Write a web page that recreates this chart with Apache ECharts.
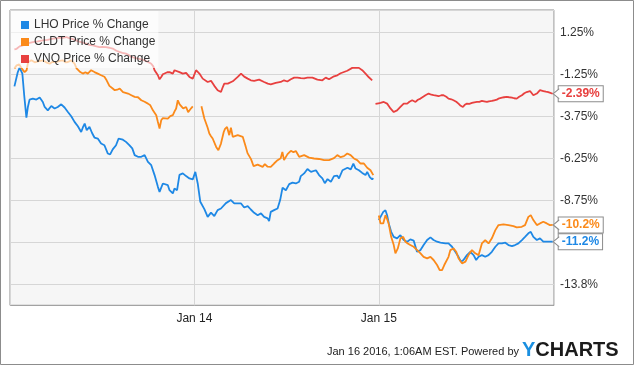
<!DOCTYPE html>
<html>
<head>
<meta charset="utf-8">
<script src="https://cdn.jsdelivr.net/npm/echarts/dist/echarts.min.js"></script>
<style>
html,body{margin:0;padding:0;background:#fff;}
#c{width:635px;height:366px;}
</style>
</head>
<body>
<div id="c"></div>
<script>
// x values are in trading days: 0 = Jan 13 open, 1 = Jan 14 open, 2 = Jan 15 open
const seriesNames = ['LHO Price % Change', 'CLDT Price % Change', 'VNQ Price % Change'];
const xTickLabels = {1: 'Jan 14', 2: 'Jan 15'};
const yTickValues = [1.25, -1.25, -3.75, -6.25, -8.75, -13.75];

const lhoT = [0.024,0.042,0.052,0.058,0.067,0.077,0.089,0.097,0.106,0.124,0.143,0.161,0.178,0.188,0.205,0.224,0.242,0.259,0.278,0.296,0.314,0.332,0.350,0.368,0.386,0.395,0.405,0.416,0.431,0.445,0.458,0.476,0.494,0.512,0.530,0.543,0.557,0.575,0.589,0.612,0.629,0.647,0.663,0.676,0.694,0.712,0.730,0.748,0.766,0.784,0.802,0.811,0.829,0.838,0.856,0.865,0.883,0.892,0.906,0.919,0.937,0.955,0.973,0.991,
1.005,1.018,1.032,1.054,1.072,1.090,1.108,1.126,1.144,1.171,1.198,1.216,1.253,1.270,1.289,1.306,1.324,1.343,1.361,1.378,1.397,1.405,1.414,1.432,1.451,1.465,1.478,1.496,1.514,1.532,1.550,1.568,1.577,1.595,1.613,1.632,1.659,1.676,1.694,1.707,1.722,1.740,1.757,1.775,1.784,1.803,1.830,1.848,1.862,1.874,1.892,1.910,1.928,1.937,1.951,1.964,1.970,
1.985,
2.000,2.009,2.024,2.036,2.045,2.054,2.067,2.081,2.099,2.117,2.135,2.154,2.171,2.189,2.207,2.226,2.243,2.262,2.280,2.297,2.316,2.334,2.361,2.378,2.397,2.415,2.432,2.445,2.459,2.478,2.496,2.514,2.528,2.541,2.559,2.577,2.595,2.613,2.632,2.649,2.668,2.686,2.703,2.722,2.739,2.757,2.776,2.793,2.811,2.824,2.838,2.857,2.874,2.892,2.911,2.928,2.943];
const lhoV = [-1.95,-1.11,-0.83,-0.80,-1.19,-2.48,-3.81,-3.18,-2.74,-2.68,-2.74,-2.62,-2.88,-3.18,-3.38,-3.12,-3.27,-3.18,-3.02,-3.21,-3.48,-3.73,-4.07,-4.33,-4.67,-4.40,-4.17,-4.57,-4.37,-4.73,-5.00,-5.06,-5.36,-5.46,-5.95,-6.01,-5.71,-5.46,-5.06,-5.13,-5.26,-5.46,-5.65,-6.05,-6.15,-6.15,-6.05,-6.45,-6.65,-7.24,-7.94,-8.24,-7.74,-7.64,-7.84,-8.14,-8.33,-8.04,-8.14,-7.23,-7.14,-7.30,-7.44,-7.50,
-7.05,-7.74,-8.83,-9.27,-9.73,-9.48,-9.68,-9.33,-9.23,-8.91,-8.73,-8.93,-8.93,-9.17,-9.09,-9.29,-9.49,-9.63,-9.52,-9.73,-9.82,-9.98,-9.43,-9.33,-9.23,-8.73,-7.99,-8.14,-7.78,-7.69,-7.74,-7.64,-7.30,-7.14,-6.88,-7.05,-6.95,-7.24,-7.44,-7.72,-7.48,-7.64,-7.30,-7.27,-7.44,-6.95,-6.80,-6.90,-6.55,-6.85,-6.95,-7.11,-7.24,-7.05,-7.36,-7.50,-7.42,
null,
-9.92,-10.02,-9.43,-9.33,-9.63,-10.12,-10.62,-10.92,-11.01,-10.82,-11.11,-11.21,-11.07,-11.14,-11.81,-11.71,-11.41,-11.11,-10.95,-11.11,-11.21,-11.27,-11.31,-11.31,-11.51,-11.81,-12.11,-12.40,-12.30,-12.01,-11.81,-12.01,-12.30,-12.11,-12.01,-12.11,-12.01,-11.81,-11.51,-11.31,-11.31,-11.27,-11.41,-11.47,-11.41,-11.31,-11.11,-10.92,-10.71,-10.62,-10.92,-11.11,-11.01,-11.21,-11.21,-11.21,-11.21];

const cldtT = [0.024,0.036,0.050,0.063,0.079,0.090,0.098,0.116,0.134,0.152,0.178,0.196,0.215,0.231,0.251,0.269,0.286,0.301,0.314,0.332,0.350,0.361,0.381,0.395,0.409,0.422,0.440,0.458,0.476,0.494,0.512,0.524,0.539,0.557,0.568,0.582,0.595,0.613,0.640,0.658,0.676,0.694,0.712,0.730,0.748,0.761,0.775,0.793,0.801,0.811,0.820,0.828,0.838,0.856,0.869,0.883,0.893,0.901,0.910,0.920,0.928,0.939,0.955,0.966,0.973,0.982,0.991,
1.015,
1.038,1.054,1.071,1.081,1.090,1.099,1.118,1.130,1.144,1.159,1.166,1.177,1.189,1.198,1.208,1.216,1.235,1.262,1.276,1.288,1.307,1.321,1.343,1.370,1.382,1.397,1.414,1.432,1.451,1.468,1.477,1.486,1.505,1.523,1.537,1.550,1.568,1.595,1.622,1.649,1.676,1.703,1.730,1.757,1.775,1.793,1.811,1.829,1.847,1.865,1.883,1.901,1.919,1.937,1.955,1.964,1.970,
1.985,
2.000,2.009,2.024,2.036,2.045,2.054,2.067,2.081,2.090,2.103,2.117,2.132,2.144,2.157,2.171,2.189,2.208,2.226,2.243,2.262,2.280,2.297,2.316,2.330,2.343,2.355,2.378,2.388,2.405,2.420,2.432,2.451,2.470,2.486,2.505,2.523,2.541,2.559,2.577,2.595,2.613,2.632,2.649,2.676,2.703,2.730,2.748,2.775,2.793,2.811,2.824,2.838,2.857,2.874,2.892,2.911,2.928,2.943];
const cldtV = [-0.88,-0.70,-0.64,-0.88,-1.10,-0.99,-0.52,-0.40,-0.52,-0.46,-0.40,-0.52,-0.60,-0.49,-0.50,-0.43,-0.40,-0.52,-0.50,-0.40,-0.60,-0.88,-1.10,-1.19,-1.11,-1.19,-0.99,-1.10,-1.19,-1.29,-1.38,-1.59,-1.92,-2.08,-2.18,-2.15,-2.08,-2.29,-2.38,-2.48,-2.58,-2.60,-2.78,-2.87,-2.98,-3.08,-3.38,-3.67,-4.03,-4.46,-3.97,-3.85,-3.77,-3.87,-3.73,-3.67,-3.43,-3.27,-2.78,-3.02,-3.08,-3.26,-3.18,-3.49,-3.57,-3.26,-3.15,
null,
-3.14,-3.87,-4.39,-4.76,-4.92,-5.06,-5.56,-5.76,-5.36,-4.67,-4.48,-4.37,-4.86,-4.42,-4.96,-5.06,-4.86,-4.96,-5.46,-5.93,-6.29,-6.71,-6.62,-6.75,-6.59,-6.74,-6.75,-6.55,-6.35,-6.23,-5.86,-6.35,-5.99,-5.79,-5.88,-5.80,-6.15,-6.05,-6.20,-6.25,-6.28,-6.35,-6.35,-6.23,-6.05,-6.17,-6.11,-5.95,-6.05,-6.25,-6.35,-6.55,-6.55,-6.80,-6.95,-7.05,-7.24,
null,
-9.65,-10.12,-10.12,-9.63,-9.86,-10.16,-10.92,-11.41,-11.90,-11.61,-11.01,-10.92,-11.21,-11.31,-11.41,-11.51,-11.71,-11.90,-12.11,-12.20,-12.11,-12.30,-12.60,-12.90,-12.90,-12.60,-12.11,-11.71,-11.61,-11.81,-12.20,-12.50,-12.40,-12.01,-11.71,-11.90,-12.01,-11.31,-11.11,-11.31,-11.01,-10.52,-10.22,-10.18,-10.22,-10.28,-10.36,-10.32,-10.22,-9.73,-9.63,-9.92,-10.22,-10.12,-10.02,-10.12,-10.22,-10.21];

const vnqT = [0.024,0.036,0.052,0.069,0.089,0.106,0.124,0.150,0.178,0.204,0.232,0.252,0.269,0.285,0.305,0.317,0.332,0.344,0.359,0.371,0.386,0.398,0.413,0.431,0.449,0.469,0.485,0.501,0.521,0.539,0.557,0.577,0.593,0.609,0.629,0.642,0.658,0.677,0.694,0.712,0.730,0.748,0.766,0.777,0.784,0.793,0.802,0.811,0.820,0.829,0.838,0.853,0.865,0.874,0.883,0.892,0.901,0.919,0.937,0.947,0.955,0.973,0.991,
1.009,1.018,1.027,1.045,1.054,1.072,1.090,1.108,1.126,1.136,1.144,1.154,1.162,1.181,1.189,1.208,1.235,1.253,1.270,1.289,1.306,1.324,1.351,1.378,1.398,1.414,1.441,1.468,1.486,1.504,1.523,1.541,1.559,1.577,1.595,1.613,1.640,1.667,1.694,1.712,1.730,1.757,1.775,1.793,1.802,1.829,1.856,1.874,1.892,1.910,1.919,1.928,1.946,1.964,
1.973,
1.982,1.998,2.009,2.027,2.045,2.055,2.063,2.081,2.099,2.117,2.135,2.154,2.166,2.181,2.199,2.212,2.226,2.253,2.270,2.285,2.297,2.312,2.324,2.339,2.351,2.366,2.378,2.393,2.405,2.420,2.432,2.444,2.456,2.466,2.478,2.491,2.505,2.518,2.532,2.545,2.559,2.571,2.586,2.597,2.613,2.626,2.640,2.653,2.668,2.679,2.694,2.707,2.722,2.734,2.748,2.761,2.776,2.789,2.802,2.820,2.838,2.857,2.874,2.892,2.906,2.919,2.943];
const vnqV = [0.26,0.29,0.43,0.49,0.60,0.64,0.69,0.73,0.79,0.82,0.89,0.91,0.95,0.94,0.99,0.94,0.89,0.85,0.79,0.73,0.69,0.64,0.60,0.52,0.49,0.43,0.39,0.40,0.39,0.35,0.30,0.17,0.10,0.05,0.00,-0.07,-0.20,-0.25,-0.30,-0.34,-0.40,-0.49,-0.60,-0.76,-0.99,-1.14,-1.29,-1.53,-1.39,-1.23,-1.19,-1.11,-1.10,-1.17,-1.19,-0.99,-1.02,-1.10,-1.19,-1.08,-1.15,-1.39,-1.49,
-0.99,-1.02,-1.19,-1.49,-1.59,-1.69,-1.62,-1.92,-2.18,-2.27,-2.29,-1.99,-1.79,-1.79,-1.79,-1.65,-1.39,-1.19,-1.37,-1.49,-1.59,-1.62,-1.55,-1.69,-1.79,-1.83,-1.74,-1.69,-1.59,-1.66,-1.53,-1.43,-1.43,-1.46,-1.47,-1.43,-1.43,-1.55,-1.59,-1.43,-1.53,-1.35,-1.29,-1.17,-1.23,-1.02,-0.85,-0.85,-0.85,-0.99,-1.10,-1.19,-1.41,-1.59,
null,
-2.99,-2.96,-2.94,-2.88,-2.98,-3.14,-3.27,-3.48,-3.38,-3.18,-2.98,-2.98,-2.87,-2.78,-2.88,-2.75,-2.68,-2.48,-2.38,-2.45,-2.48,-2.51,-2.54,-2.48,-2.48,-2.57,-2.68,-2.72,-2.78,-2.87,-2.98,-3.11,-3.18,-3.05,-2.98,-2.99,-2.94,-2.90,-2.88,-2.87,-2.82,-2.84,-2.88,-2.84,-2.82,-2.78,-2.74,-2.66,-2.62,-2.60,-2.58,-2.60,-2.62,-2.66,-2.68,-2.57,-2.48,-2.36,-2.29,-2.23,-2.48,-2.38,-2.18,-2.23,-2.27,-2.29,-2.39];

const colors = ['#1e88e5', '#fb8a1a', '#e8403f'];
const FONT = 'Liberation Sans, Arial, sans-serif';

function pairs(t, v) { return t.map((x, i) => [x, v[i]]); }

function makeSeries(name, t, v, color) {
  const last = [t[t.length - 1], v[v.length - 1]];
  return {
    name: name,
    type: 'line',
    data: pairs(t, v),
    showSymbol: false,
    symbol: 'none',
    connectNulls: false,
    color: color,
    lineStyle: { width: 1.8, color: color },
    emphasis: { disabled: true },
    endLabel: {
      show: true,
      formatter: p => p.value[1].toPrecision(3) + '%',
      color: color,
      fontWeight: 'bold',
      fontSize: 12,
      fontFamily: FONT,
      backgroundColor: '#fff',
      borderColor: '#8c8c8c',
      borderWidth: 1,
      padding: [2, 3, 1, 3],
      distance: 6
    },
    markPoint: {
      silent: true,
      animation: false,
      symbol: 'path://M6,0 L0,5 L6,10',
      symbolSize: [6, 10],
      symbolOffset: [3.5, 0],
      itemStyle: { color: '#fff', borderColor: '#8c8c8c', borderWidth: 1 },
      label: { show: false },
      data: [{ coord: last }]
    }
  };
}

const chart = echarts.init(document.getElementById('c'), null, { renderer: 'canvas' });
chart.setOption({
  animation: false,
  backgroundColor: '#fff',
  grid: {
    left: 10, top: 10, width: 544, height: 295.3,
    show: true, backgroundColor: '#f6f6f6', borderColor: '#8c8c8c', borderWidth: 1
  },
  legend: {
    orient: 'vertical', left: 11, top: 11,
    padding: [7, 3, 2, 10],
    itemGap: 3, itemWidth: 8, itemHeight: 8, icon: 'rect',
    backgroundColor: 'rgba(255,255,255,0.62)',
    textStyle: { fontSize: 12, fontFamily: FONT, color: '#333', lineHeight: 14 },
    data: seriesNames,
    selectedMode: false
  },
  xAxis: {
    type: 'value', min: 0, max: 2.95, interval: 1,
    axisLine: { show: false }, axisTick: { show: false },
    splitLine: { show: true, lineStyle: { color: '#d6d6d6', width: 1 } },
    axisLabel: {
      margin: 7, fontSize: 12, fontFamily: FONT, color: '#222',
      showMinLabel: false, showMaxLabel: false,
      formatter: v => xTickLabels[Math.round(v * 1000) / 1000] || ''
    }
  },
  yAxis: {
    type: 'value', position: 'right', min: -15, max: 2.6, interval: 1.25,
    axisLine: { show: false }, axisTick: { show: false },
    splitLine: { show: true, lineStyle: { color: ['rgba(0,0,0,0)', '#d6d6d6'], width: 1 } },
    axisLabel: {
      margin: 6, fontSize: 12, fontFamily: FONT, color: '#333',
      formatter: v => {
        const hit = yTickValues.some(t => Math.abs(t - v) < 1e-6);
        return hit ? v.toPrecision(3) + '%' : '';
      }
    }
  },
  series: [
    makeSeries(seriesNames[0], lhoT, lhoV, colors[0]),
    makeSeries(seriesNames[1], cldtT, cldtV, colors[1]),
    makeSeries(seriesNames[2], vnqT, vnqV, colors[2])
  ],
  graphic: [
    { type: 'rect', shape: { x: 0.5, y: 0.5, width: 633, height: 364 }, style: { fill: 'none', stroke: '#8c8c8c', lineWidth: 1 }, silent: true },
    { type: 'text', right: 116, top: 346, style: { text: 'Jan 16 2016, 1:06AM EST. Powered by', fontSize: 11, fontFamily: FONT, fill: '#222' } },
    { type: 'text', left: 522, top: 340, style: {
        text: '{y|Y}{c|CHARTS}',
        rich: {
          y: { fontSize: 20, fontWeight: 'bold', fontFamily: FONT, fill: '#1a8fe0', color: '#1a8fe0' },
          c: { fontSize: 20, fontWeight: 'bold', fontFamily: FONT, fill: '#1b1b1b', color: '#1b1b1b' }
        }
      } }
  ]
});
</script>
</body>
</html>
